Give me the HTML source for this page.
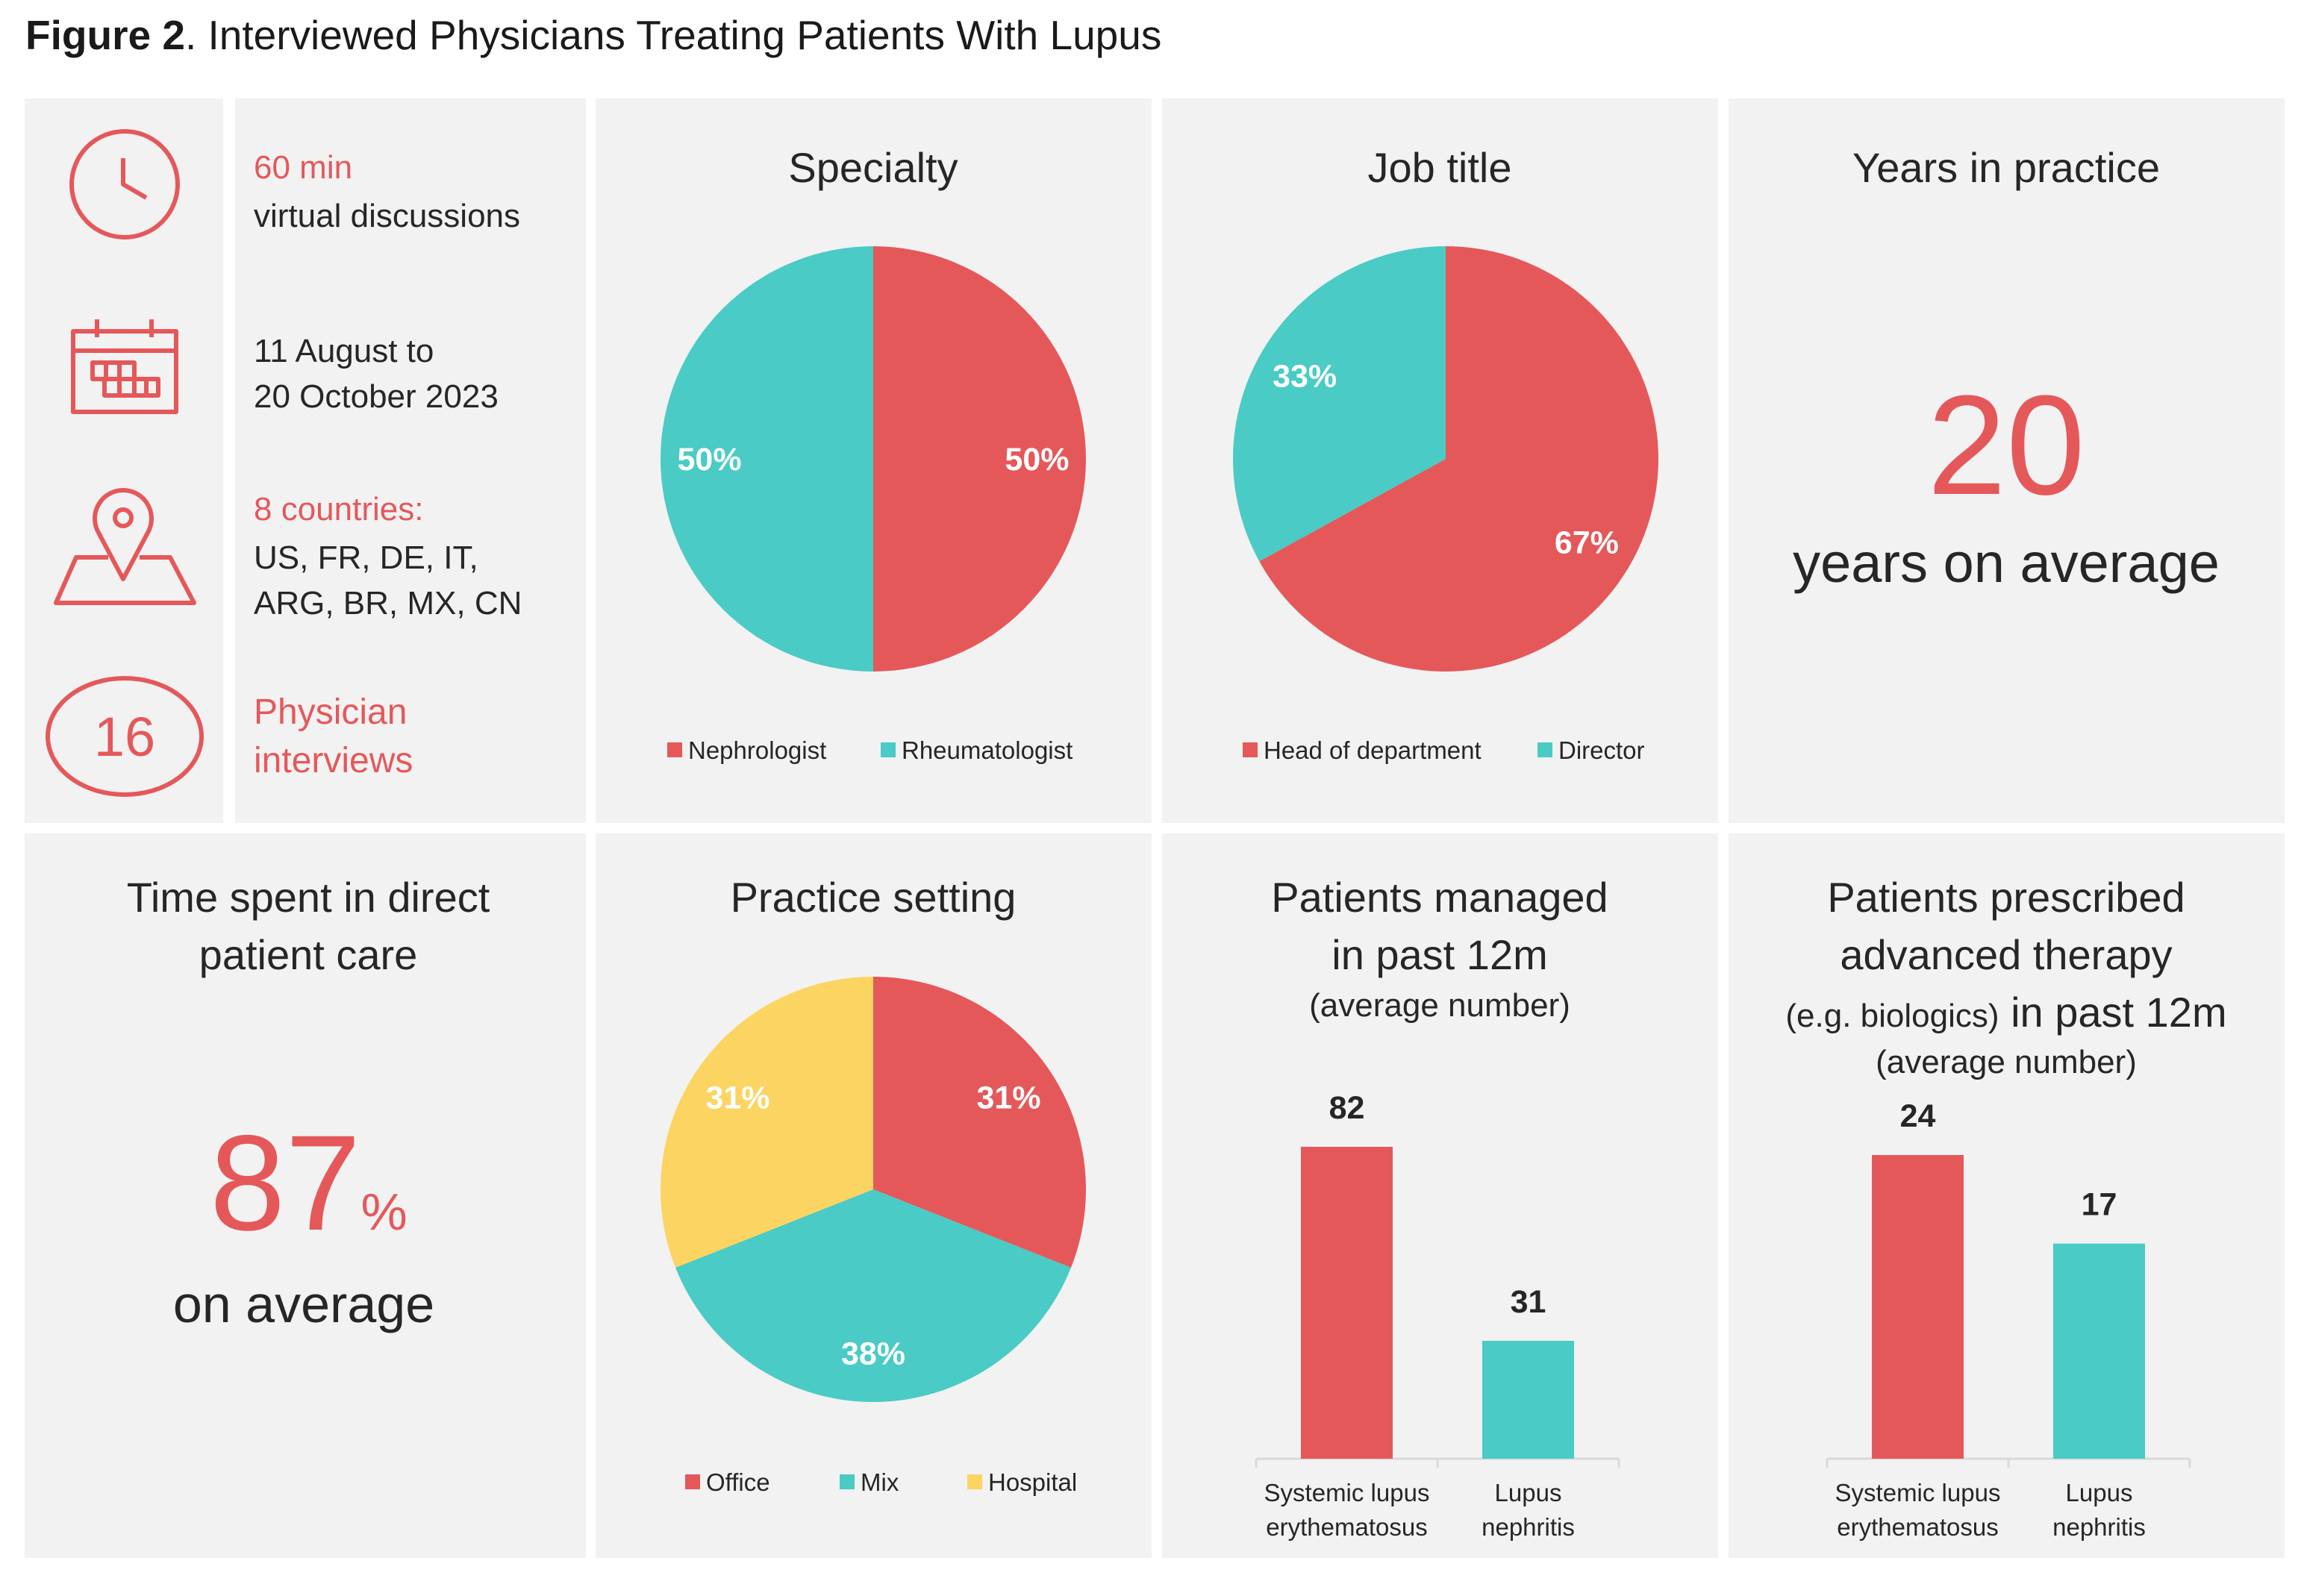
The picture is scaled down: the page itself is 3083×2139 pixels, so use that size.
<!DOCTYPE html>
<html><head><meta charset="utf-8">
<style>
html,body{margin:0;padding:0;background:#fff;}
svg{display:block;font-family:"Liberation Sans",sans-serif;}
</style></head>
<body>
<svg id="fig" width="3083" height="2139" viewBox="0 0 3083 2139" xmlns="http://www.w3.org/2000/svg">
<text x="34" y="66" font-size="55" fill="#1a1a1a"><tspan font-weight="bold">Figure 2</tspan>. Interviewed Physicians Treating Patients With Lupus</text>

<g fill="#f2f2f2">
<rect x="33" y="132" width="266" height="971"/>
<rect x="315" y="132" width="470" height="971"/>
<rect x="798" y="132" width="745" height="971"/>
<rect x="1557" y="132" width="745" height="971"/>
<rect x="2316" y="132" width="745" height="971"/>
<rect x="33" y="1117" width="752" height="971"/>
<rect x="798" y="1117" width="745" height="971"/>
<rect x="1557" y="1117" width="745" height="971"/>
<rect x="2316" y="1117" width="745" height="971"/>
</g>

<g stroke="#e5585a" stroke-width="6" fill="none" stroke-linejoin="round">
<g>
<circle cx="167" cy="247" r="71"/>
<polyline points="165,212 165,247 196,265"/>
</g>
<g>
<rect x="98" y="444" width="138" height="108"/>
<line x1="98" y1="470" x2="236" y2="470"/>
<line x1="130" y1="428" x2="130" y2="452"/>
<line x1="203" y1="428" x2="203" y2="452"/>
<rect x="124" y="486" width="56" height="22"/>
<rect x="140" y="508" width="72" height="22"/>
<line x1="142" y1="486" x2="142" y2="508"/><line x1="160" y1="486" x2="160" y2="530"/><line x1="180" y1="508" x2="180" y2="530"/><line x1="196" y1="508" x2="196" y2="530"/>
</g>
<g>
<path d="M165,776 L131,712 A38,38 0 1,1 199,712 Z"/>
<circle cx="165" cy="694" r="11"/>
<polyline points="145,747 102,747 75,808 260,808 228,747 187,747"/>
</g>
<ellipse cx="167" cy="987" rx="103" ry="78"/>
</g>
<text x="167" y="1013" font-size="74" fill="#e5585a" text-anchor="middle">16</text>

<g font-size="44" fill="#262626">
<text x="340" y="239" fill="#e5585a">60 min</text>
<text x="340" y="304">virtual discussions</text>
<text x="340" y="485">11 August to</text>
<text x="340" y="546">20 October 2023</text>
<text x="340" y="697" fill="#e5585a">8 countries:</text>
<text x="340" y="762">US, FR, DE, IT,</text>
<text x="340" y="823">ARG, BR, MX, CN</text>
<text x="340" y="970" fill="#e5585a" font-size="48">Physician</text>
<text x="340" y="1035" fill="#e5585a" font-size="48">interviews</text>
</g>

<g font-size="56" fill="#262626" text-anchor="middle">
<text x="1170" y="244">Specialty</text>
<text x="1929" y="244">Job title</text>
<text x="2688" y="244">Years in practice</text>
<text x="413" y="1222">Time spent in direct</text>
<text x="413" y="1299">patient care</text>
<text x="1170" y="1222">Practice setting</text>
<text x="1929" y="1222">Patients managed</text>
<text x="1929" y="1299">in past 12m</text>
<text x="1929" y="1362" font-size="44">(average number)</text>
<text x="2688" y="1222">Patients prescribed</text>
<text x="2688" y="1299">advanced therapy</text>
<text x="2688" y="1376"><tspan font-size="44">(e.g. biologics)</tspan> in past 12m</text>
<text x="2688" y="1438" font-size="44">(average number)</text>
</g>

<text x="2688" y="662" font-size="190" fill="#e5585a" text-anchor="middle">20</text>
<text x="2688" y="780" font-size="74" fill="#262626" text-anchor="middle">years on average</text>
<text x="281" y="1648" font-size="182" fill="#e5585a">87<tspan font-size="70" dx="0">%</tspan></text>
<text x="407" y="1772" font-size="70" fill="#262626" text-anchor="middle">on average</text>

<g id="charts"></g>
</svg>
<script>
// Specialty pie
const specCats = ["Nephrologist", "Rheumatologist"];
const specVals = [50, 50];
// Job title pie
const jobCats = ["Head of department", "Director"];
const jobVals = [67, 33];
// Practice setting pie
const pracCats = ["Office", "Mix", "Hospital"];
const pracVals = [31, 38, 31];
// Patients managed bars
const managedCats = [["Systemic lupus", "erythematosus"], ["Lupus", "nephritis"]];
const managedVals = [82, 31];
// Patients prescribed bars
const prescCats = [["Systemic lupus", "erythematosus"], ["Lupus", "nephritis"]];
const prescVals = [24, 17];

const NS = "http://www.w3.org/2000/svg";
const COLORS = ["#e5585a", "#4acbc5", "#fcd462"];
const root = document.getElementById("charts");
function mk(tag, attrs, parent) {
  const e = document.createElementNS(NS, tag);
  for (const k in attrs) e.setAttribute(k, attrs[k]);
  (parent || root).appendChild(e);
  return e;
}
function pie(cx, cy, r, cats, vals, legendItems, legendY, name) {
  const g = mk("g", {});
  
  
  const total = vals.reduce((a, b) => a + b, 0);
  let a0 = 0;
  vals.forEach((v, i) => {
    const a1 = a0 + v / total * 2 * Math.PI;
    const x0 = cx + r * Math.sin(a0), y0 = cy - r * Math.cos(a0);
    const x1 = cx + r * Math.sin(a1), y1 = cy - r * Math.cos(a1);
    const large = (a1 - a0) > Math.PI ? 1 : 0;
    const p = mk("path", { d: `M${cx},${cy} L${x0},${y0} A${r},${r} 0 ${large},1 ${x1},${y1} Z`, fill: COLORS[i] }, g);
    
    
    const am = (a0 + a1) / 2, lr = r * 0.77;
    const t = mk("text", { x: cx + lr * Math.sin(am), y: cy - lr * Math.cos(am) + 15, "font-size": 43, "font-weight": "bold", fill: "#fff", "text-anchor": "middle" }, g);
    t.textContent = v + "%";
    
    
    a0 = a1;
  });
  legendItems.forEach((lx, i) => {
    const s = mk("rect", { x: lx, y: legendY - 10, width: 20, height: 20, fill: COLORS[i] }, g);
    
    
    const t = mk("text", { x: lx + 28, y: legendY + 12, "font-size": 33, fill: "#262626" }, g);
    t.textContent = cats[i];
    
    
  });
}
pie(1170, 615, 285, specCats, specVals, [894, 1180], 1005, "specialty");
pie(1937, 615, 285, jobCats, jobVals, [1665, 2060], 1005, "job-title");
pie(1170, 1594, 285, pracCats, pracVals, [918, 1125, 1296], 1986, "practice");

function bars(x0, x1, base, pxPerUnit, cats, vals, name) {
  const g = mk("g", {});
  
  
  const band = (x1 - x0) / cats.length, bw = 123;
  const ax = mk("line", { x1: x0, y1: base, x2: x1, y2: base, stroke: "#d9d9d9", "stroke-width": 3 }, g);
  
  
  for (let i = 0; i <= cats.length; i++) {
    const tk = mk("line", { x1: x0 + i * band, y1: base, x2: x0 + i * band, y2: base + 12, stroke: "#d9d9d9", "stroke-width": 3 }, g);
    
    
  }
  vals.forEach((v, i) => {
    const cx = x0 + band * (i + 0.5), h = v * pxPerUnit;
    const b = mk("rect", { x: cx - bw / 2, y: base - h, width: bw, height: h, fill: COLORS[i] }, g);
    
    
    const t = mk("text", { x: cx, y: base - h - 38, "font-size": 43, "font-weight": "bold", fill: "#262626", "text-anchor": "middle" }, g);
    t.textContent = v;
    
    
    cats[i].forEach((line, j) => {
      const c = mk("text", { x: cx, y: 2012 + j * 46, "font-size": 33, fill: "#262626", "text-anchor": "middle" }, g);
      c.textContent = line;
      
      
    });
  });
}
bars(1683, 2169, 1955, 418 / 82, managedCats, managedVals, "managed");
bars(2448, 2934, 1955, 407 / 24, prescCats, prescVals, "prescribed");
</script>
</body></html>
